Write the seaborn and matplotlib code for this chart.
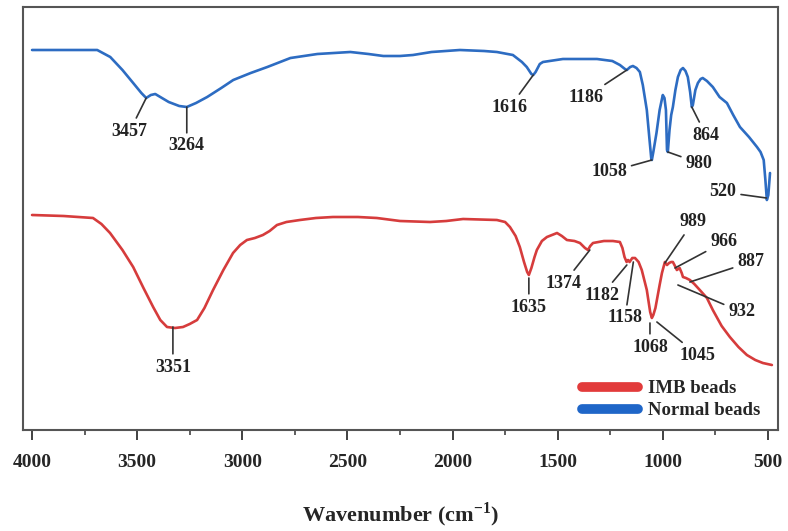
import numpy as np
import pandas as pd
import matplotlib
matplotlib.use("Agg")
import matplotlib.pyplot as plt
import seaborn as sns
from matplotlib.lines import Line2D

# ---------------- data ----------------
normal_wn = [4000, 3850, 3690, 3628, 3570, 3519, 3480, 3457, 3435, 3414, 3350, 3300, 3264, 3220,
             3167, 3100, 3043, 2960, 2881, 2771, 2643, 2486, 2400, 2329, 2250, 2188, 2100, 1965,
             1850, 1789, 1713, 1670, 1647, 1625, 1616, 1605, 1585, 1570, 1475, 1313, 1240, 1204,
             1180, 1171, 1155, 1142, 1125, 1109, 1095, 1076, 1063, 1055, 1052, 1045, 1030, 1015,
             1000, 992, 985, 980, 976, 968, 960, 952, 940, 928, 915, 904, 892, 881, 870, 862, 857,
             845, 833, 820, 810, 790, 762, 730, 695, 665, 633, 590, 552, 535, 520, 512, 505, 498, 490]
normal_t = [380, 380, 380, 373, 360, 347, 337, 332, 335, 336, 328, 324, 323, 327,
            333, 342, 350, 357, 363, 372, 376, 378, 376, 374, 374, 375, 378, 380,
            379, 378, 375, 368, 363, 356, 355, 358, 366, 368, 371, 371, 369, 365,
            361, 360, 363, 364, 362, 358, 345, 320, 290, 272, 270, 278, 297, 320,
            335, 332, 320, 280, 278, 300, 315, 323, 340, 353, 360, 362, 359, 353, 338, 323, 325,
            340, 347, 351, 352, 349, 343, 333, 327, 315, 303, 293, 283, 278, 270, 250, 230, 235, 257]

imb_wn = [4000, 3850, 3710, 3670, 3629, 3570, 3519, 3470, 3424, 3390, 3358, 3320, 3282, 3250,
          3215, 3180, 3139, 3090, 3044, 3010, 2978, 2940, 2902, 2870, 2835, 2790, 2726, 2650,
          2569, 2450, 2360, 2250, 2107, 2030, 1950, 1789, 1750, 1727, 1700, 1680, 1660, 1645,
          1637, 1625, 1610, 1599, 1575, 1551, 1503, 1480, 1456, 1420, 1394, 1370, 1356, 1345,
          1332, 1280, 1237, 1204, 1192, 1182, 1172, 1165, 1158, 1145, 1132, 1115, 1100, 1076,
          1060, 1052, 1045, 1035, 1015, 1004, 990, 980, 970, 960, 952, 942, 933, 920, 910, 904,
          890, 871, 850, 824, 790, 762, 720, 681, 640, 600, 560, 524, 481]
imb_t = [215, 214, 212, 206, 197, 180, 163, 142, 123, 110, 103, 102, 103, 106,
         110, 122, 140, 160, 177, 185, 190, 192, 195, 199, 205, 208, 210, 212,
         213, 213, 212, 209, 208, 209, 211, 210, 208, 203, 194, 183, 168, 158,
         155, 162, 173, 180, 189, 193, 197, 194, 190, 189, 187, 182, 180, 184,
         187, 189, 189, 188, 182, 173, 168, 170, 168, 172, 172, 168, 160, 140,
         118, 112, 115, 122, 145, 157, 168, 165, 167, 168, 168, 164, 160, 162, 157, 153,
         152, 150, 146, 140, 132, 120, 104, 93, 83, 75, 70, 67, 65]

series_names = ["IMB beads", "Normal beads"]

normal_labels = ["3457", "3264", "1616", "1186", "1058", "980", "864", "520"]
normal_peaks = [(3457, 332), (3264, 323), (1616, 355), (1171, 360), (1052, 270), (976, 278), (862, 323), (507, 232)]
imb_labels = ["3351", "1635", "1374", "1182", "1158", "1068", "1045", "989", "966", "887", "932"]
imb_peaks = [(3330, 103), (1637, 152), (1347, 180), (1171, 165), (1140, 168), (1061, 107),
             (1028, 108), (990, 167), (942, 162), (871, 148), (928, 145)]

xticks = [4000, 3500, 3000, 2500, 2000, 1500, 1000, 500]
xlabel = "Wavenumber (cm$^{\\mathbf{-1}}$)"

# ---------------- layout ----------------
normal_text_pos = [(3535, 299), (3264, 284), (1727, 323), (1366, 333), (1256, 258), (828, 267), (795, 295), (714, 238)]
imb_text_pos = [(3330, 63), (1637, 123), (1470, 147), (1290, 135), (1180, 112), (1061, 83),
                (833, 75), (857, 208), (710, 188), (581, 168), (624, 118)]

sns.set_style("white")
plt.rcParams["font.family"] = ["Liberation Serif", "DejaVu Serif"]
plt.rcParams["font.weight"] = "bold"
plt.rcParams["mathtext.fontset"] = "custom"
plt.rcParams["mathtext.rm"] = "Liberation Serif:bold"
plt.rcParams["mathtext.bf"] = "Liberation Serif:bold"

fig = plt.figure(figsize=(7.88, 5.31), dpi=100)
ax = fig.add_axes([23 / 788, 1 - 430 / 531, 755 / 788, 423 / 531])

red = "#D63C3C"
blue = "#2D6CC2"

df_imb = pd.DataFrame({"wn": imb_wn, "T": imb_t})
df_nor = pd.DataFrame({"wn": normal_wn, "T": normal_t})
sns.lineplot(data=df_imb, x="wn", y="T", ax=ax, color=red, linewidth=1.9, estimator=None)
sns.lineplot(data=df_nor, x="wn", y="T", ax=ax, color=blue, linewidth=1.9, estimator=None)

ax.set_xlim(4043, 452)
ax.set_ylim(0, 423)
ax.set_xticks(xticks)
ax.set_xticklabels([str(t) for t in xticks], fontsize=14, fontweight="bold")
ax.set_xticks([3750, 3250, 2750, 2250, 1750, 1250, 750], minor=True)
ax.set_yticks([])
ax.tick_params(axis="x", which="major", direction="out", length=7.2, width=1.3, color="#333333", bottom=True, pad=10)
ax.tick_params(axis="x", which="minor", direction="out", length=3.6, width=1.1, color="#333333", bottom=True)
ax.set_xlabel(xlabel, fontsize=16, fontweight="bold", labelpad=21)
ax.set_ylabel("")
for s in ax.spines.values():
    s.set_color("#555555")
    s.set_linewidth(1.5)

ann_kw = dict(fontsize=13, fontweight="bold", ha="center", va="center", color="#222222",
              arrowprops=dict(arrowstyle="-", color="#333333", lw=1.2, shrinkA=1, shrinkB=0))
for lab, p, tp in zip(normal_labels, normal_peaks, normal_text_pos):
    ax.annotate(lab, xy=p, xytext=tp, **ann_kw)
for lab, p, tp in zip(imb_labels, imb_peaks, imb_text_pos):
    ax.annotate(lab, xy=p, xytext=tp, **ann_kw)

handles = [Line2D([], [], color="#E23B3B", lw=7, solid_capstyle="round"),
           Line2D([], [], color="#1F66C8", lw=7, solid_capstyle="round")]
ax.legend(handles, series_names, loc="lower right", bbox_to_anchor=(0.986, 0.008), frameon=False,
          prop=dict(family="Liberation Serif", weight="bold", size=13.5), handlelength=3.0,
          handletextpad=0.5, labelspacing=0.25, borderaxespad=0)

fig.savefig("out.png", dpi=100)
